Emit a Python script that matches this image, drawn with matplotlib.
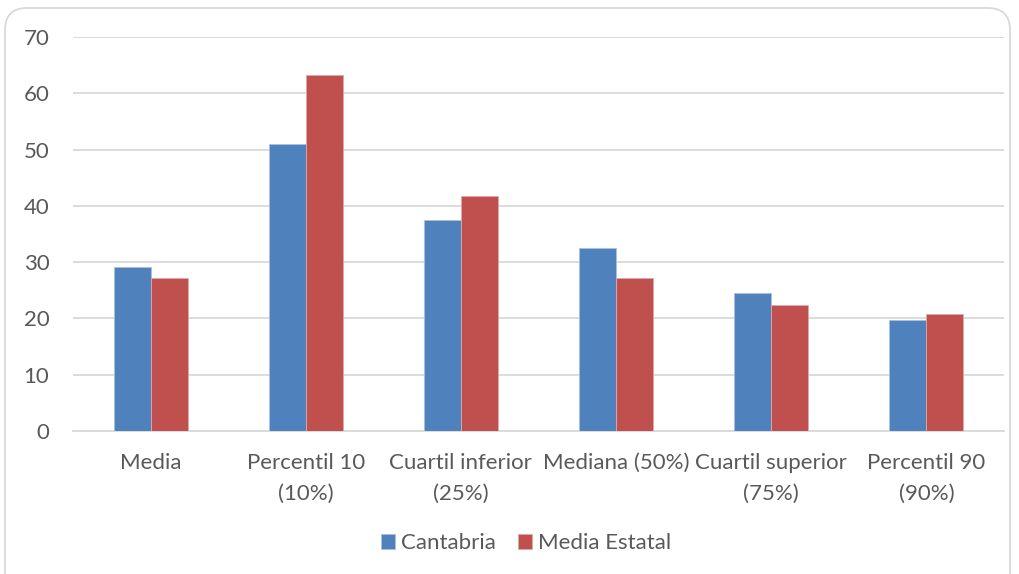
import numpy as np
import matplotlib.pyplot as plt
from matplotlib.patches import FancyBboxPatch
from matplotlib.transforms import blended_transform_factory

categories = ['Media', 'Percentil 10\n(10%)', 'Cuartil inferior\n(25%)',
              'Mediana (50%)', 'Cuartil superior\n(75%)', 'Percentil 90\n(90%)']
cantabria = [29.1, 51.0, 37.4, 32.6, 24.6, 19.8]
media_estatal = [27.2, 63.2, 41.7, 27.2, 22.4, 20.7]
y_ticks = [0, 10, 20, 30, 40, 50, 60, 70]

blue = '#4F81BD'
red = '#C0504D'
grid_c = '#D9D9D9'
text_c = '#595959'

plt.rcParams['font.family'] = ['Lato', 'DejaVu Sans']

W, H = 1019, 574
fig = plt.figure(figsize=(W / 100, H / 100), dpi=100)
ax = fig.add_axes([73 / W, (H - 431) / H, (1004 - 73) / W, (431 - 37) / H])

x = np.arange(len(categories))
bw = 0.238
ax.bar(x - bw / 2, cantabria, bw, color=blue, edgecolor='#A9C0E0', linewidth=0.6,
       label='Cantabria', zorder=3)
ax.bar(x + bw / 2, media_estatal, bw, color=red, edgecolor='#E0A9A7', linewidth=0.6,
       label='Media Estatal', zorder=3)

ax.set_xlim(-0.5, len(categories) - 0.5)
ax.set_ylim(0, 70)
ax.set_yticks(y_ticks)
ax.yaxis.grid(True, color=grid_c, linewidth=1.3, zorder=0)
ax.set_axisbelow(True)
for s in ['top', 'right', 'left']:
    ax.spines[s].set_visible(False)
ax.spines['bottom'].set_color(grid_c)
ax.spines['bottom'].set_linewidth(1.3)
ax.tick_params(axis='both', length=0, colors=text_c, labelsize=16)
ax.tick_params(axis='y', pad=17)
ax.set_xticks(x)
ax.set_xticklabels([])

# category labels, each line on its own baseline
tr = blended_transform_factory(ax.transData, fig.transFigure)
for xi, lab in zip(x, categories):
    for k, line in enumerate(lab.split('\n')):
        ax.text(xi, 1 - (469 + 31 * k) / H, line, transform=tr, ha='center',
                va='baseline', fontsize=16, color=text_c)

fig.legend(loc='center', bbox_to_anchor=(526 / W, 1 - 543 / H), ncol=2,
           frameon=False, fontsize=16, labelcolor=text_c, handlelength=0.65,
           handleheight=0.65, handletextpad=0.25, columnspacing=1.0)

# outer chart frame with rounded corners
frame = FancyBboxPatch((5 / 100, -0.5), (1010 - 5) / 100, (H - 8) / 100 + 0.5,
                       boxstyle='round,pad=0,rounding_size=0.22',
                       transform=fig.dpi_scale_trans, facecolor='none',
                       edgecolor=grid_c, linewidth=1.3)
fig.patches.append(frame)

fig.savefig('out.png', dpi=100)
